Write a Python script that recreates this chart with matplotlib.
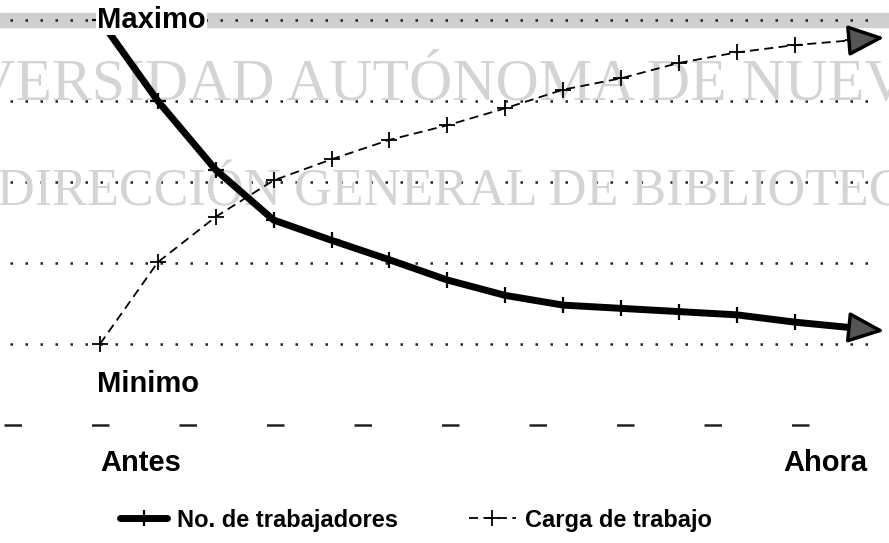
import matplotlib.pyplot as plt
from matplotlib.patches import Rectangle

# datos (escala 0 = eje, 5 = Maximo)
periodos = list(range(14))
trabajadores = [5.0, 4.0, 3.15, 2.53, 2.28, 2.04, 1.79, 1.60, 1.48, 1.44, 1.40, 1.36, 1.27, 1.20]
carga = [1.0, 2.01, 2.57, 3.02, 3.28, 3.52, 3.70, 3.91, 4.14, 4.28, 4.47, 4.60, 4.69, 4.75]
niveles = [1, 2, 3, 4, 5]
series = ['No. de trabajadores', 'Carga de trabajo']

fig = plt.figure(figsize=(8.89, 5.43), dpi=100)
ax = fig.add_axes([0, 0, 1, 1])
ax.set_xlim(-1.727, 13.63)
ax.set_ylim(-1.457, 5.247)
ax.axis('off')

# banda gris del escaneo
ax.add_patch(Rectangle((0, 1 - 27 / 543), 1, 14 / 543, transform=fig.transFigure,
                       color='#cfcfcf', zorder=0.5, clip_on=False))

# lineas punteadas de nivel y eje inferior
ax.hlines(niveles, -1.55, 13.3, colors='#222222', linestyles=(0, (1, 5)), lw=1.8, zorder=1)
ax.hlines([0], -1.65, 13.3, colors='#222222', linestyles=(0, (7, 28)), lw=1.8, zorder=1)

# marca de agua
wm = dict(transform=fig.transFigure, family='Liberation Serif', color='#d4d4d4',
          va='baseline', ha='left', zorder=1.5, clip_on=False)
ax.text(-134 / 889, 1 - 100 / 543, 'UNIVERSIDAD AUTÓNOMA DE NUEVO LEÓN', fontsize=43, **wm)
ax.text(-3 / 889, 1 - 206 / 543, 'DIRECCIÓN GENERAL DE BIBLIOTECAS', fontsize=37.5, **wm)

l1, = ax.plot(periodos, trabajadores, color='black', lw=5, marker='+', ms=11, mew=1.6,
              solid_capstyle='round', zorder=4, label=series[0])
l2, = ax.plot(periodos, carga, color='black', lw=1.3, ls=(0, (5, 3)), marker='+', ms=11,
              mew=1.3, zorder=3, label=series[1])

# flechas al final de cada linea
for ys in (trabajadores, carga):
    dx = 0.55
    dy = (ys[-1] - ys[-2]) * dx
    ax.annotate('', xy=(periodos[-1] + dx, ys[-1] + dy), xytext=(periodos[-1], ys[-1]),
                arrowprops=dict(arrowstyle='-|>,head_length=1.4,head_width=0.6',
                                mutation_scale=16, fc='#555555', ec='black', lw=2.5,
                                shrinkA=0, shrinkB=0), zorder=5)

etq = dict(family='Liberation Sans', fontweight='bold', fontsize=21, color='black', zorder=6)
ax.text(-0.05, 5.0, 'Maximo', ha='left', va='center',
        bbox=dict(fc='white', ec='none', pad=1), **etq)
ax.text(-0.05, 0.5, 'Minimo', ha='left', va='center', **etq)
ax.text(0.0, -0.47, 'Antes', ha='left', va='center', **etq)
ax.text(13.26, -0.47, 'Ahora', ha='right', va='center', **etq)

fig.legend(handles=[l1, l2], labels=series, loc='center', bbox_to_anchor=(0.468, 1 - 520 / 543),
           ncol=2, frameon=False, handlelength=2.0, handletextpad=0.4, columnspacing=3.0,
           prop={'family': 'Liberation Sans', 'weight': 'bold', 'size': 17})

plt.savefig('out.png', dpi=100)
